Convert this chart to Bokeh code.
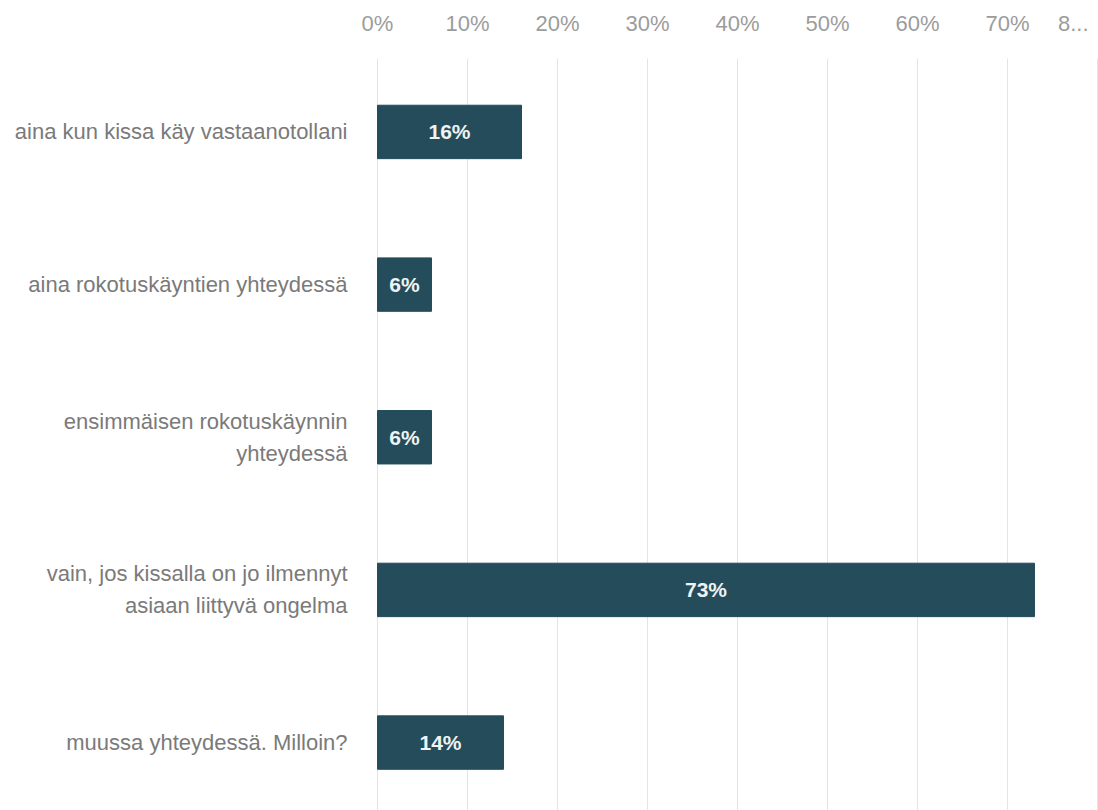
from bokeh.plotting import figure
from bokeh.models import Range1d
from bokeh.embed import file_html
from bokeh.resources import INLINE
from bokeh.core.properties import value

categories = [
    "aina kun kissa käy vastaanotollani",
    "aina rokotuskäyntien yhteydessä",
    "ensimmäisen rokotuskäynnin\nyhteydessä",
    "vain, jos kissalla on jo ilmennyt\nasiaan liittyvä ongelma",
    "muussa yhteydessä. Milloin?",
]
values = [16, 6, 6, 73, 14]
value_labels = ["16%", "6%", "6%", "73%", "14%"]
x_ticks = [0, 10, 20, 30, 40, 50, 60, 70]
x_tick_labels = ["0%", "10%", "20%", "30%", "40%", "50%", "60%", "70%"]
last_tick = 80
last_tick_label = "8..."
grid_ticks = [0, 10, 20, 30, 40, 50, 60, 70, 80]

BAR = "#244c5a"
TICK_GRAY = "#9c9c9c"
LABEL_GRAY = "#7a7a7a"
FONT = value("Liberation Sans")
ypos = list(range(len(categories)))

X_LEFT, X_RIGHT = -41.889, 80.111   # frame edges in data units
Y_TOP, Y_BOTTOM = -0.861, 4.445
Y_TICKLABEL = -0.712
Y_GRID_TOP = -0.481

p = figure(width=1098, height=810, output_backend="svg", toolbar_location=None,
           x_range=Range1d(X_LEFT, X_RIGHT), y_range=Range1d(Y_BOTTOM, Y_TOP),
           x_axis_location=None, y_axis_location=None,
           min_border_left=0, min_border_right=0,
           min_border_top=0, min_border_bottom=0)
p.outline_line_color = None
p.background_fill_color = "white"
p.grid.grid_line_color = None

# vertical gridlines
p.segment(x0=grid_ticks, x1=grid_ticks, y0=Y_GRID_TOP, y1=Y_BOTTOM,
          line_color="#e4e4e4", line_width=1)

# top tick labels
p.text(x=x_ticks, y=Y_TICKLABEL, text=x_tick_labels, text_align="center",
       text_baseline="middle", text_color=TICK_GRAY,
       text_font=FONT, text_font_size="22px")
p.text(x=[last_tick], y=Y_TICKLABEL, text=[last_tick_label], text_align="right",
       text_baseline="middle", x_offset=-9, text_color=TICK_GRAY,
       text_font=FONT, text_font_size="22px")

# category labels
p.text(x=0, y=ypos, text=categories, text_align="right", text_baseline="middle",
       x_offset=-30, text_color=LABEL_GRAY, text_font=FONT,
       text_font_size="22px", text_line_height=1.28)

# bars
p.hbar(y=ypos, left=0, right=values, height=0.35, color=BAR)
p.text(x=[v / 2 for v in values], y=ypos, text=value_labels,
       text_align="center", text_baseline="middle", text_color="#eef3f4",
       text_font=FONT, text_font_style="bold", text_font_size="21px")

open("out.html", "w").write(file_html(p, INLINE))
